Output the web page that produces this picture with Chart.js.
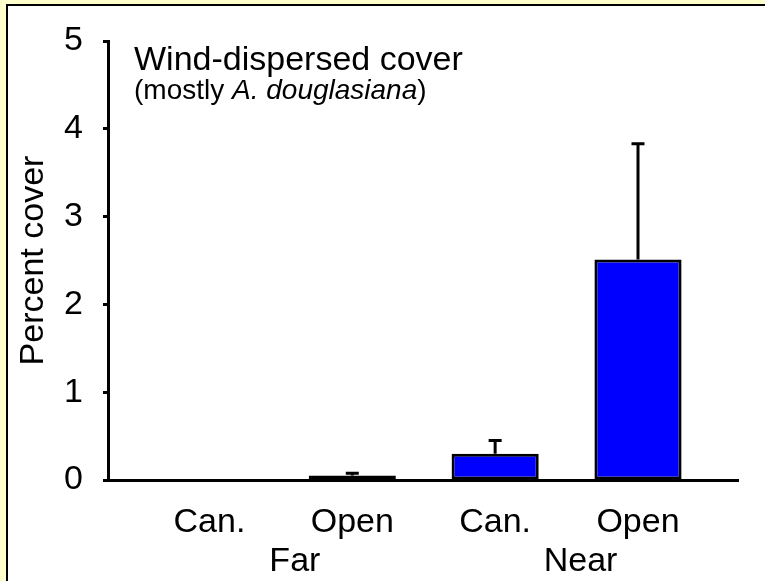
<!DOCTYPE html>
<html>
<head>
<meta charset="utf-8">
<script src="https://cdn.jsdelivr.net/npm/chart.js@4.4.0/dist/chart.umd.min.js"></script>
<style>
  html, body { margin: 0; padding: 0; background: #FFFFCC; overflow: hidden; }
  #panel { position: absolute; left: 6px; top: 4px; width: 820px; height: 640px; background: #fff; border: 2px solid #000; }
  #c { position: absolute; left: 0; top: 0; }
</style>
</head>
<body>
<div id="panel"></div>
<canvas id="c" width="765" height="581"></canvas>
<script>
// bars: Far (Can., Open), Near (Can., Open)
const categories = ['Can.', 'Open', 'Can.', 'Open'];
const groups = ['Far', 'Near'];
const coverMean = [0, 0.05, 0.30, 2.51];
const coverErr = [0, 0.026, 0.15, 1.32];
const yTicks = [0, 1, 2, 3, 4, 5];
const titleText = 'Wind-dispersed cover';
const subtitleParts = [['(mostly ', false], ['A. douglasiana', true], [')', false]];

const FONT = 'Arial, "Liberation Sans", sans-serif';

const overlay = {
  id: 'overlay',
  afterDatasetsDraw(chart) {
    const { ctx, scales: { y } } = chart;
    const meta = chart.getDatasetMeta(0);
    ctx.save();
    ctx.strokeStyle = '#000';
    ctx.lineWidth = 3;
    meta.data.forEach((bar, i) => {
      if (!coverErr[i]) return;
      const top = y.getPixelForValue(coverMean[i] + coverErr[i]);
      ctx.beginPath();
      ctx.moveTo(bar.x, bar.y);
      ctx.lineTo(bar.x, top);
      ctx.moveTo(bar.x - 6.5, top);
      ctx.lineTo(bar.x + 6.5, top);
      ctx.stroke();
    });
    ctx.restore();
  },
  afterDraw(chart) {
    const { ctx, scales: { x }, chartArea } = chart;
    ctx.save();
    ctx.fillStyle = '#000';
    // group labels under the category labels
    ctx.font = '34px ' + FONT;
    ctx.textAlign = 'center';
    ctx.textBaseline = 'middle';
    groups.forEach((g, k) => {
      const mid = (x.getPixelForValue(2 * k + 1) + x.getPixelForValue(2 * k + 2)) / 2;
      ctx.fillText(g, mid + 14, chartArea.bottom + 82);
    });
    // caption inside the plot
    ctx.textAlign = 'left';
    ctx.textBaseline = 'alphabetic';
    const left = chartArea.left + 26;
    ctx.font = '34px ' + FONT;
    ctx.fillText(titleText, left, chartArea.top + 29);
    let cx = left;
    subtitleParts.forEach(([txt, it]) => {
      ctx.font = (it ? 'italic ' : '') + '28px ' + FONT;
      ctx.fillText(txt, cx, chartArea.top + 58);
      cx += ctx.measureText(txt).width;
    });
    ctx.restore();
  }
};

new Chart(document.getElementById('c'), {
  type: 'bar',
  data: {
    datasets: [{
      data: coverMean.map((v, i) => ({ x: i + 1, y: v })),
      backgroundColor: '#0000FF',
      borderColor: '#000',
      borderWidth: 3,
      borderSkipped: false,
      categoryPercentage: 1,
      barPercentage: 0.61
    }]
  },
  options: {
    responsive: false,
    animation: false,
    layout: { padding: { left: 0, top: 41, right: 27, bottom: 0 } },
    plugins: { legend: { display: false }, tooltip: { enabled: false } },
    scales: {
      x: {
        type: 'linear',
        offset: false,
        min: 0.29,
        max: 4.7,
        afterFit: s => { s.height = 101; },
        afterBuildTicks: s => { s.ticks = categories.map((c, i) => ({ value: i + 1 })); },
        ticks: {
          callback: v => categories[v - 1],
          font: { size: 34, family: FONT },
          color: '#000',
          padding: 22,
          maxRotation: 0,
          autoSkip: false
        },
        grid: { display: false, drawTicks: false, tickLength: 0, offset: false },
        border: { display: true, color: '#000', width: 3 }
      },
      y: {
        min: 0,
        max: 5,
        afterFit: s => { s.width = 108; },
        afterBuildTicks: s => { s.ticks = yTicks.map(v => ({ value: v })); },
        ticks: {
          font: { size: 34, family: FONT },
          color: '#000',
          padding: 20
        },
        grid: { display: true, drawOnChartArea: false, drawTicks: true, tickLength: 5, tickWidth: 3, tickColor: '#000' },
        border: { display: true, color: '#000', width: 3 },
        title: {
          display: true,
          text: 'Percent cover',
          font: { size: 34, family: FONT },
          color: '#000',
          padding: { top: 13, bottom: 0 }
        }
      }
    }
  },
  plugins: [overlay]
});
</script>
</body>
</html>
